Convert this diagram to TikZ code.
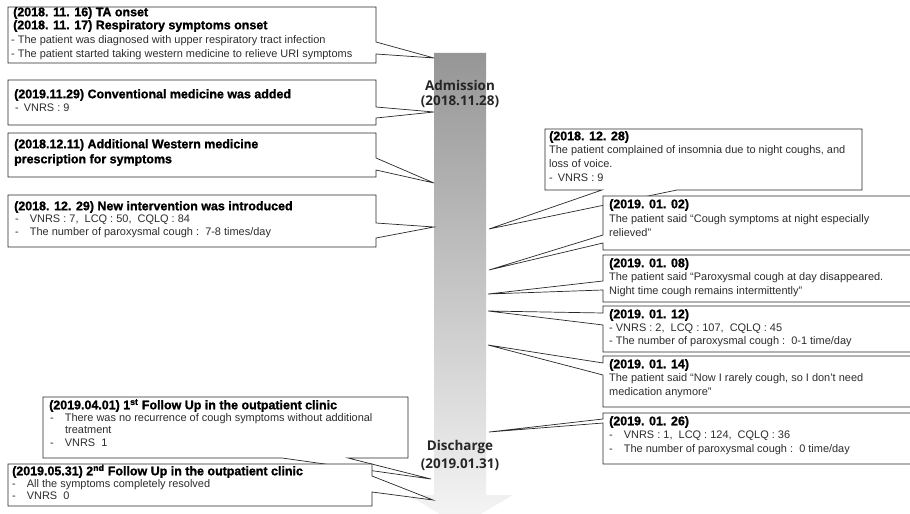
\documentclass[tikz,border=0pt]{standalone}
\usepackage{fontspec}
\setmainfont{Liberation Sans}[BoldFeatures={FakeBold=1.2}]
\newfontfamily\labfont{Open Sans}[BoldFont={* Bold}]
\definecolor{shaftTop}{RGB}{150,150,150}
\definecolor{shaftBot}{RGB}{246,246,246}
\definecolor{edgeC}{RGB}{40,40,40}
\definecolor{bodyC}{RGB}{45,45,45}
\tikzset{
  callout/.style={draw=edgeC, fill=white, line width=0.7bp, line join=miter},
  hd/.style={anchor=west, inner sep=0pt, font=\fontsize{12.5}{14}\selectfont\bfseries, text height=9bp, text depth=2.5bp},
  bd/.style={anchor=west, inner sep=0pt, font=\fontsize{11}{13}\selectfont, text=bodyC, text height=8bp, text depth=2.5bp},
  lab/.style={inner sep=0pt, font=\labfont\bfseries\fontsize{13.5}{15}\selectfont, text=black!85}
}
\begin{document}
\begin{tikzpicture}[x=1bp,y=-1bp]
\useasboundingbox (0,0) rectangle (910,514);
\clip (0,0) rectangle (910,514);
\fill[white] (0,0) rectangle (910,514);
% timeline arrow
\shade[top color=shaftTop, bottom color=shaftBot] (434,53) -- (486,53) -- (486,495) -- (513,495) -- (460,526) -- (408,495) -- (434,495) -- cycle;
\node[lab] (adm) at (460,85) {Admission};
\node[lab] (admd) at (460,102) {(2018.11.28)};
\node[lab] (dis) at (460,447) {Discharge};
\node[lab] (disd) at (460,465) {(2019.01.31)};
% ---------- left callouts ----------
\draw[callout] (8,7) -- (376,7) -- (376,42) -- (434,58) -- (376,54) -- (376,63) -- (8,63) -- cycle;
\node[hd] (l1a) at (13,13) {(2018. 11. 16) TA onset};
\node[hd] (l1b) at (13,26) {(2018. 11. 17) Respiratory symptoms onset};
\node[bd] (l1c) at (11,41) {- The patient was diagnosed with upper respiratory tract infection};
\node[bd] (l1d) at (11,55) {- The patient started taking western medicine to relieve URI symptoms};

\draw[callout] (8,80) -- (376,80) -- (376,107) -- (434,112) -- (376,118) -- (376,125) -- (8,125) -- cycle;
\node[hd] (l2a) at (14,95) {(2019.11.29) Conventional medicine was added};
\node[bd] (l2b) at (15,109) {-\hspace{5bp}VNRS : 9};

\draw[callout] (8,133) -- (376,133) -- (376,158) -- (434,183) -- (376,170) -- (376,177) -- (8,177) -- cycle;
\node[hd] (l3a) at (14,145) {(2018.12.11) Additional Western medicine};
\node[hd] (l3b) at (14,160) {prescription for symptoms};

\draw[callout] (8,195) -- (376,195) -- (376,223) -- (434,227) -- (376,238) -- (376,247) -- (8,247) -- cycle;
\node[hd] (l4a) at (14,207) {(2018. 12. 29) New intervention was introduced};
\node[bd] (l4b) at (15,220) {-\hspace{11bp}VNRS : 7,\ \ LCQ : 50,\ \ CQLQ : 84};
\node[bd] (l4c) at (15,233) {-\hspace{11bp}The number of paroxysmal cough :\ \ 7-8 times/day};

\draw[callout] (43,397) -- (408,397) -- (408,458) -- (348,458) -- (431,479) -- (282,458) -- (43,458) -- cycle;
\node[hd] (l5a) at (49,406) {(2019.04.01) 1\textsuperscript{st} Follow Up in the outpatient clinic};
\node[bd] (l5b) at (50,419) {-\hspace{11bp}There was no recurrence of cough symptoms without additional};
\node[bd] (l5c) at (65,431) {treatment};
\node[bd] (l5d) at (50,444) {-\hspace{11bp}VNRS\ \ 1};

\draw[callout] (8,464) -- (372,464) -- (372,476) -- (433,500) -- (372,492) -- (372,506) -- (8,506) -- cycle;
\node[hd] (l6a) at (12,472) {(2019.05.31) 2\textsuperscript{nd} Follow Up in the outpatient clinic};
\node[bd] (l6b) at (12,485) {-\hspace{11bp}All the symptoms completely resolved};
\node[bd] (l6c) at (12,497) {-\hspace{11bp}VNRS\ \ 0};
% ---------- right callouts ----------
\draw[callout] (545,129) -- (862,129) -- (862,190) -- (677,190) -- (489,229) -- (602,190) -- (545,190) -- cycle;
\node[hd] (r1a) at (549,137) {(2018. 12. 28)};
\node[bd] (r1b) at (549,151) {The patient complained of insomnia due to night coughs, and};
\node[bd] (r1c) at (549,165) {loss of voice.};
\node[bd] (r1d) at (549,179) {-\hspace{5bp}VNRS : 9};

\draw[callout] (603,196) -- (915,196) -- (915,250) -- (603,250) -- (603,243) -- (489,270) -- (603,235) -- cycle;
\node[hd] (r2a) at (609,205) {(2019. 01. 02)};
\node[bd] (r2b) at (609,219.5) {The patient said “Cough symptoms at night especially};
\node[bd] (r2c) at (609,233.5) {relieved”};

\draw[callout] (603,255) -- (915,255) -- (915,302) -- (603,302) -- (603,290) -- (488,294) -- (603,281) -- cycle;
\node[hd] (r3a) at (609,264) {(2019. 01. 08)};
\node[bd] (r3b) at (609,278) {The patient said “Paroxysmal cough at day disappeared.};
\node[bd] (r3c) at (609,292) {Night time cough remains intermittently”};

\draw[callout] (603,306) -- (915,306) -- (915,352) -- (603,352) -- (603,325) -- (488,311) -- (603,313) -- cycle;
\node[hd] (r4a) at (609,315) {(2019. 01. 12)};
\node[bd] (r4b) at (609,329) {- VNRS : 2,\ \ LCQ : 107,\ \ CQLQ : 45};
\node[bd] (r4c) at (609,342) {- The number of paroxysmal cough :\ \ 0-1 time/day};

\draw[callout] (603,356) -- (915,356) -- (915,407) -- (603,407) -- (603,375) -- (488,345) -- (603,363) -- cycle;
\node[hd] (r5a) at (609,365) {(2019. 01. 14)};
\node[bd] (r5b) at (609,379) {The patient said “Now I rarely cough, so I don’t need};
\node[bd] (r5c) at (609,393) {medication anymore”};

\draw[callout] (603,413) -- (915,413) -- (915,464) -- (603,464) -- (603,423) -- (489,432) -- (603,419) -- cycle;
\node[hd] (r6a) at (609,422) {(2019. 01. 26)};
\node[bd] (r6b) at (609,436) {-\hspace{11bp}VNRS : 1,\ \ LCQ : 124,\ \ CQLQ : 36};
\node[bd] (r6c) at (609,450) {-\hspace{11bp}The number of paroxysmal cough :\ \ 0 time/day};
\end{tikzpicture}
\end{document}
